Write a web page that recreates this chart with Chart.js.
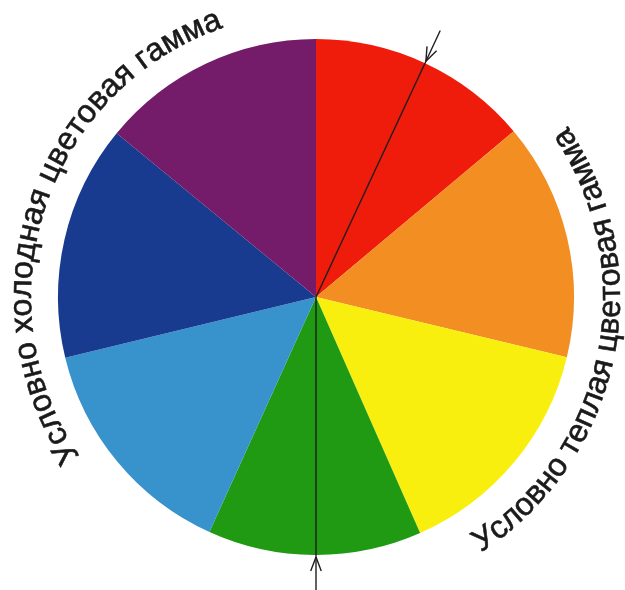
<!DOCTYPE html>
<html>
<head>
<meta charset="utf-8">
<script src="https://cdn.jsdelivr.net/npm/chart.js@4.4.0/dist/chart.umd.min.js"></script>
<style>
  html, body { margin: 0; padding: 0; background: #fff; }
  #wrap { width: 625px; height: 590px; position: relative; }
</style>
</head>
<body>
<div id="wrap"><canvas id="myChart"></canvas></div>
<script>
// colour wheel sectors (angle shares, degrees)
const sectors = ['Красный', 'Оранжевый', 'Жёлтый', 'Зелёный', 'Голубой', 'Синий', 'Фиолетовый'];
const sizes = [50, 53.5, 52.7, 48.2, 52, 53, 50.6];
const colors = ['#EF1B0B', '#F38F22', '#F9EF0E', '#1F9A12', '#3892CC', '#183A8F', '#741B6A'];

const coldLabel = 'Условно холодная цветовая гамма';
const warmLabel = 'Условно теплая цветовая гамма';
// arrows, degrees clockwise from 12 o'clock
const arrowAngles = [25, 180];

function drawArcText(ctx, text, cx, cy, r, midDeg, outward) {
    const widths = Array.from(text).map(ch => ctx.measureText(ch).width);
    const total = widths.reduce((a, b) => a + b, 0);
    const ext = total / r;
    const mid = midDeg * Math.PI / 180;
    let acc = 0;
    Array.from(text).forEach((ch, i) => {
        const d = (acc + widths[i] / 2) / r;
        const t = outward ? mid - ext / 2 + d : mid + ext / 2 - d;
        ctx.save();
        ctx.translate(cx + r * Math.cos(t), cy + r * Math.sin(t));
        ctx.rotate(outward ? t + Math.PI / 2 : t - Math.PI / 2);
        ctx.fillText(ch, 0, 0);
        ctx.strokeText(ch, 0, 0);
        ctx.restore();
        acc += widths[i];
    });
}

const wheelDecor = {
    id: 'wheelDecor',
    afterDatasetsDraw(chart) {
        const arc = chart.getDatasetMeta(0).data[0];
        if (!arc) return;
        const ctx = chart.ctx;
        const cx = arc.x, cy = arc.y, R = arc.outerRadius;

        // arrows
        ctx.save();
        ctx.strokeStyle = '#1e1e1e';
        ctx.lineWidth = 1.4;
        arrowAngles.forEach(a => {
            const t = (a - 90) * Math.PI / 180;
            const ux = Math.cos(t), uy = Math.sin(t);
            ctx.beginPath();
            ctx.moveTo(cx, cy);
            ctx.lineTo(cx + (R + 36) * ux, cy + (R + 36) * uy);
            ctx.stroke();
            const tipX = cx + (R + 2) * ux, tipY = cy + (R + 2) * uy;
            [-0.36, 0.36].forEach(s => {
                const bt = t + s;
                ctx.beginPath();
                ctx.moveTo(tipX, tipY);
                ctx.lineTo(tipX + 15 * Math.cos(bt), tipY + 15 * Math.sin(bt));
                ctx.stroke();
            });
        });
        ctx.restore();

        // curved captions
        ctx.save();
        ctx.fillStyle = '#1a1a1a';
        ctx.strokeStyle = '#1a1a1a';
        ctx.lineWidth = 0.6;
        ctx.font = '32px "Liberation Sans", Arial, sans-serif';
        ctx.textAlign = 'center';
        ctx.textBaseline = 'alphabetic';
        drawArcText(ctx, coldLabel, cx, cy, R + 27, 198.5, true);
        drawArcText(ctx, warmLabel, cx, cy, R + 46, 11.5, false);
        ctx.restore();
    }
};

const ctx = document.getElementById('myChart').getContext('2d');
new Chart(ctx, {
    type: 'pie',
    data: {
        labels: sectors,
        datasets: [{
            data: sizes,
            backgroundColor: colors,
            borderWidth: 0,
            hoverOffset: 0,
            offset: 0
        }]
    },
    options: {
        responsive: true,
        maintainAspectRatio: false,
        animation: false,
        events: [],
        layout: {
            padding: { top: 39, bottom: 35, left: 58, right: 51 }
        },
        plugins: {
            legend: { display: false },
            tooltip: { enabled: false },
            title: { display: false }
        }
    },
    plugins: [wheelDecor]
});
</script>
</body>
</html>
